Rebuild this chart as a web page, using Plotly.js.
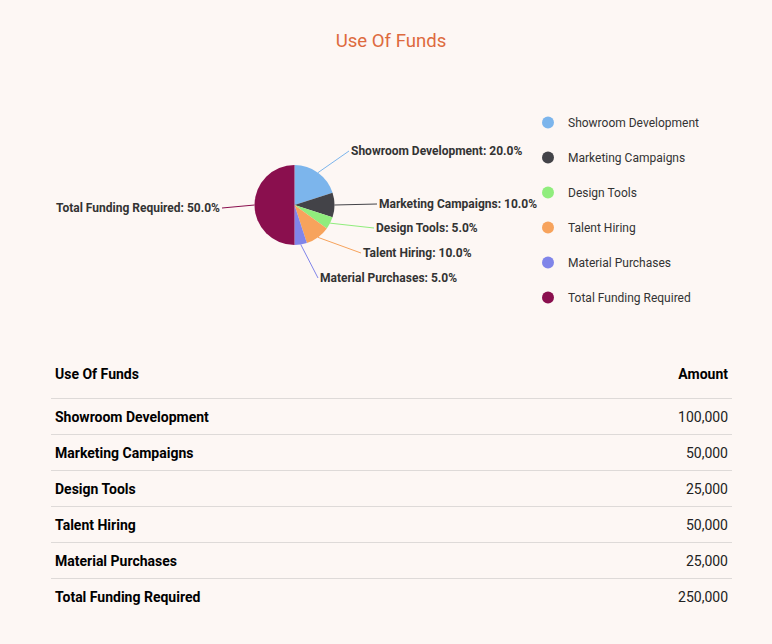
<!DOCTYPE html>
<html>
<head>
<meta charset="utf-8">
<script src="https://cdn.plot.ly/plotly-3.0.1.min.js"></script>
<style>
  html, body { margin: 0; padding: 0; background: #fdf7f4; width: 772px; height: 644px; overflow: hidden; }
  #chart { position: absolute; left: 0; top: 0; width: 772px; height: 345px; }
  #tbl { position: absolute; left: 51px; top: 354px; width: 681px; border-collapse: collapse; font-family: Roboto, sans-serif; font-size: 14px; }
  #tbl th { font-weight: bold; color: #000; height: 40px; padding: 0 4px 4px 4px; border-bottom: 1px solid #dedad8; }
  #tbl td { height: 35px; padding: 0 4px; color: #222; border-bottom: 1px solid #dedad8; }
  #tbl tr:last-child td { border-bottom: none; }
  #tbl .l { text-align: left; }
  #tbl .r { text-align: right; }
  #tbl td.l { font-weight: bold; color: #000; }
</style>
</head>
<body>
<div id="chart"></div>
<table id="tbl"><thead></thead><tbody></tbody></table>
<script>
// ---- data ----
const categories = ["Showroom Development", "Marketing Campaigns", "Design Tools", "Talent Hiring", "Material Purchases", "Total Funding Required"];
const amounts = [100000, 50000, 25000, 50000, 25000, 250000];
const colors = ["#7cb5ec", "#434348", "#90ed7d", "#f7a35c", "#8085e9", "#8a0f4e"];
const tableHeader = ["Use Of Funds", "Amount"];
const chartTitle = "Use Of Funds";

// ---- layout geometry (pixels) ----
const W = 772, H = 345;
const cx = 294.5, cy = 205, R = 40;
// label anchor positions (pixels): [x, y, side]
const labelPos = [
  [349, 151, "left"],
  [377, 204, "left"],
  [374, 228, "left"],
  [361, 253, "left"],
  [318, 278, "left"],
  [222, 208, "right"]
];

const total = amounts.reduce((a, b) => a + b, 0);
const annotations = [];
let cum = 0;
amounts.forEach((v, i) => {
  const theta = (cum + v / 2) / total * 2 * Math.PI;
  cum += v;
  const px = cx + R * Math.sin(theta);
  const py = cy - R * Math.cos(theta);
  const [lx, ly, side] = labelPos[i];
  annotations.push({
    xref: "paper", yref: "paper",
    x: px / W, y: 1 - py / H,
    ax: lx - px, ay: ly - py,
    showarrow: true, arrowhead: 0, arrowwidth: 1, arrowcolor: colors[i],
    standoff: 0, startstandoff: 0,
    xanchor: side, yanchor: "middle",
    text: "<b>" + categories[i] + ": " + (v / total * 100).toFixed(1) + "%</b>",
    font: { family: "Roboto, sans-serif", size: 12, color: "#333333" }
  });
});

const traces = [{
  type: "pie",
  labels: categories,
  values: amounts,
  sort: false,
  direction: "clockwise",
  rotation: 0,
  textinfo: "none",
  hoverinfo: "label+percent",
  marker: { colors: colors, line: { width: 0 } },
  showlegend: false,
  domain: { x: [(cx - R) / W, (cx + R) / W], y: [1 - (cy + R) / H, 1 - (cy - R) / H] }
}];
categories.forEach((c, i) => {
  traces.push({
    type: "scatter", mode: "markers",
    x: [null], y: [null],
    name: c, legendgroup: "g" + i,
    marker: { color: colors[i], size: 12, symbol: "circle" },
    showlegend: true, hoverinfo: "skip"
  });
});

const layout = {
  width: W, height: H,
  margin: { l: 0, r: 0, t: 0, b: 0 },
  paper_bgcolor: "#fdf7f4",
  plot_bgcolor: "rgba(0,0,0,0)",
  title: { text: chartTitle, x: 391 / W, xanchor: "center", y: 1 - 40 / H, yanchor: "middle", yref: "container",
           font: { family: "Roboto, sans-serif", size: 18.6, color: "#dd6a3e" } },
  xaxis: { visible: false },
  yaxis: { visible: false },
  showlegend: true,
  legend: {
    x: 528 / W, y: 1 - 108 / H, xanchor: "left", yanchor: "top",
    bgcolor: "rgba(0,0,0,0)", borderwidth: 0,
    tracegroupgap: 16, itemwidth: 30,
    font: { family: "Roboto, sans-serif", size: 12, color: "#333333" }
  },
  annotations: annotations
};

Plotly.newPlot("chart", traces, layout, { displayModeBar: false, staticPlot: true });

// ---- table ----
const thead = document.querySelector("#tbl thead");
thead.innerHTML = "<tr><th class='l'>" + tableHeader[0] + "</th><th class='r'>" + tableHeader[1] + "</th></tr>";
const tbody = document.querySelector("#tbl tbody");
categories.forEach((c, i) => {
  const tr = document.createElement("tr");
  const td1 = document.createElement("td"); td1.className = "l"; td1.textContent = c;
  const td2 = document.createElement("td"); td2.className = "r"; td2.textContent = amounts[i].toLocaleString("en-US");
  tr.appendChild(td1); tr.appendChild(td2);
  tbody.appendChild(tr);
});
</script>
</body>
</html>
